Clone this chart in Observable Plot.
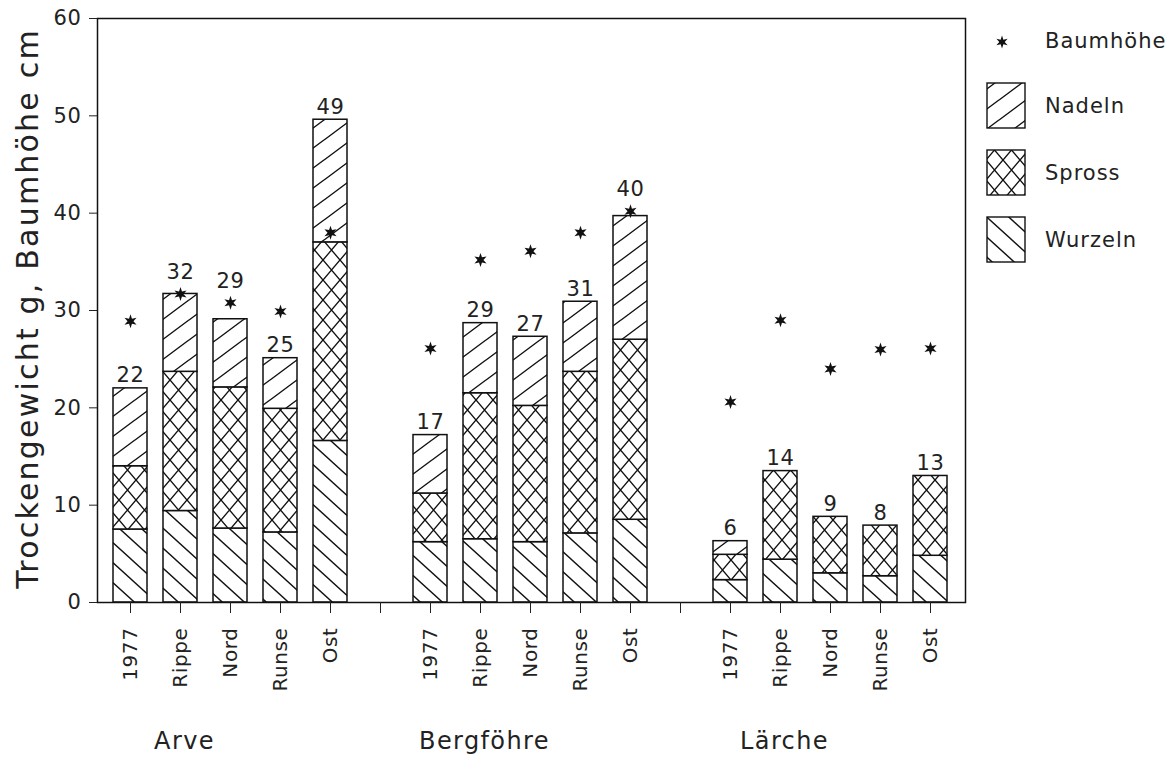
<!DOCTYPE html>
<html><head><meta charset="utf-8">
<script src="https://cdn.jsdelivr.net/npm/d3@7"></script>
<script src="https://cdn.jsdelivr.net/npm/@observablehq/plot@0.6"></script>
<style>
body{margin:0;background:#fff;}
#chart svg{font-family:"DejaVu Sans",sans-serif;color:#111;letter-spacing:0.6px;}
</style>
</head><body><div id="chart"></div><script>
const species = ["Arve", "Bergföhre", "Lärche"];
const sites = ["1977", "Rippe", "Nord", "Runse", "Ost"];
const parts = ["Wurzeln", "Spross", "Nadeln"];
const heightLabel = "Baumhöhe";
const yLabel = "Trockengewicht g, Baumhöhe cm";
const yTicks = [0, 10, 20, 30, 40, 50, 60];

// per bar, in order species × sites
const wurzeln   = [7.5, 9.4, 7.6, 7.2, 16.6,  6.2, 6.5, 6.2, 7.1, 8.5,  2.3, 4.4, 3.0, 2.7, 4.8];
const spross    = [6.5, 14.3, 14.5, 12.7, 20.4,  5.0, 15.0, 14.0, 16.6, 18.5,  2.6, 9.1, 5.8, 5.2, 8.2];
const nadeln    = [8.0, 8.0, 7.0, 5.2, 12.6,  6.0, 7.2, 7.1, 7.2, 12.7,  1.4, 0, 0, 0, 0];
const baumhoehe = [28.9, 31.7, 30.8, 29.9, 38.0,  26.1, 35.2, 36.1, 38.0, 40.2,  20.6, 29.0, 24.0, 26.0, 26.1];
const totalLabels = [22, 32, 29, 25, 49,  17, 29, 27, 31, 40,  6, 14, 9, 8, 13];

const slotOf = (gi, si) => gi * (sites.length + 1) + si + 1;
const slots = d3.range(1, species.length * (sites.length + 1));
const slotLabel = new Map();
species.forEach((g, gi) => sites.forEach((s, si) => slotLabel.set(slotOf(gi, si), s)));

const partValues = {Wurzeln: wurzeln, Spross: spross, Nadeln: nadeln};
const rows = [];
parts.forEach(p => species.forEach((g, gi) => sites.forEach((s, si) => {
  const v = partValues[p][gi * sites.length + si];
  if (v > 0) rows.push({slot: slotOf(gi, si), part: p, value: v});
})));
const points = [];
species.forEach((g, gi) => sites.forEach((s, si) => {
  const k = gi * sites.length + si;
  const total = wurzeln[k] + spross[k] + nadeln[k];
  const h = baumhoehe[k];
  // the total label sits above the star when the star is just over the bar
  const labelAt = (h >= total - 0.5 && h - total < 2.5) ? h + 0.9 : total;
  points.push({slot: slotOf(gi, si), height: h, total, labelAt, label: String(totalLabels[k])});
}));

const INK = "#111";
// six-pointed filled star
const star = {
  draw(context, size) {
    const R = Math.sqrt(size / Math.PI), r = R * 0.42;
    for (let i = 0; i < 12; ++i) {
      const a = Math.PI * i / 6 - Math.PI / 2, rr = i % 2 ? r : R;
      const x = rr * Math.cos(a), y = rr * Math.sin(a);
      i ? context.lineTo(x, y) : context.moveTo(x, y);
    }
    context.closePath();
  }
};

function defsMark() {
  const defs = d3.create("svg:defs");
  const mk = (id, w, h, paths) => {
    const p = defs.append("pattern").attr("id", id).attr("patternUnits", "userSpaceOnUse")
      .attr("width", w).attr("height", h);
    p.append("rect").attr("width", w).attr("height", h).attr("fill", "white");
    p.append("path").attr("d", paths).attr("stroke", INK).attr("stroke-width", 1.4).attr("fill", "none");
  };
  const up = (w, h) => `M${-w},${2*h}L${2*w},${-h}M${-w},${h}L${w},${-h}M0,${2*h}L${2*w},0`;
  const down = (w, h) => `M${-w},${-h}L${2*w},${2*h}M${-w},0L${w},${2*h}M0,${-h}L${2*w},${h}`;
  mk("pat-Nadeln", 27, 20, up(27, 20));
  mk("pat-Wurzeln", 22, 20, down(22, 20));
  mk("pat-Spross", 17, 20, up(17, 20) + down(17, 20));
  return defs.node();
}

function legendMark(index, scales, values, dims) {
  const g = d3.create("svg:g").attr("font-size", 21).attr("fill", "#222")
    .attr("text-anchor", "start").style("letter-spacing", "1px");
  const left = dims.width - dims.marginRight;
  const bx = left + 22, tx = left + 80;
  g.append("path").attr("d", d3.symbol(star, Math.PI * 42)())
    .attr("transform", `translate(${bx + 15},42)`).attr("fill", INK);
  g.append("text").attr("x", tx).attr("y", 41).attr("dy", "0.35em").text(heightLabel);
  parts.slice().reverse().forEach((p, i) => {
    const y = 83 + i * 67;
    g.append("rect").attr("x", bx).attr("y", y).attr("width", 38).attr("height", 45)
      .attr("fill", `url(#pat-${p})`).attr("stroke", INK).attr("stroke-width", 1.4);
    g.append("text").attr("x", tx).attr("y", y + 23).attr("dy", "0.35em").text(p);
  });
  return g.node();
}

const chart = Plot.plot({
  width: 1173,
  height: 776,
  marginLeft: 97,
  marginRight: 208,
  marginTop: 18,
  marginBottom: 174,
  style: {background: "#fff", color: INK},
  x: {type: "band", domain: slots, range: [100.78, 958.22], paddingInner: 0.326, paddingOuter: 0.163, align: 0.5},
  y: {domain: [0, 60]},
  color: {type: "identity"},
  marks: [
    defsMark,
    Plot.barY(rows, {x: "slot", y: "value", fill: d => `url(#pat-${d.part})`, stroke: INK, strokeWidth: 1.5}),
    Plot.dot(points, {x: "slot", y: "height", symbol: star, r: 7, fill: INK, stroke: "none"}),
    Plot.text(points, {x: "slot", y: "labelAt", text: "label", lineAnchor: "bottom", dy: -6, fontSize: 21, fill: "#222"}),
    Plot.frame({stroke: INK, strokeWidth: 1.5}),
    Plot.axisY({ticks: yTicks, tickSize: 8, tickPadding: 8, fontSize: 21, label: null, color: "#222"}),
    Plot.axisX({tickSize: 11, tickPadding: 14, tickRotate: -90, tickFormat: d => slotLabel.get(d) ?? "", fontSize: 20, label: null, color: "#222"}),
    Plot.text([yLabel], {frameAnchor: "left", rotate: -90, dx: -69, dy: -2, fontSize: 30, textAnchor: "middle", text: d => d, fill: "#222"}),
    Plot.text(species, {x: (d, i) => slotOf(i, 1), frameAnchor: "bottom", dy: 146, dx: 4, fontSize: 24, text: d => d, fill: "#222"}),
    legendMark
  ]
});
chart.querySelectorAll("text").forEach(t => {
  if (t.textContent === yLabel) t.style.letterSpacing = "2.2px";
  if (species.includes(t.textContent)) t.style.letterSpacing = "1.4px";
});
document.getElementById("chart").appendChild(chart);
</script></body></html>
